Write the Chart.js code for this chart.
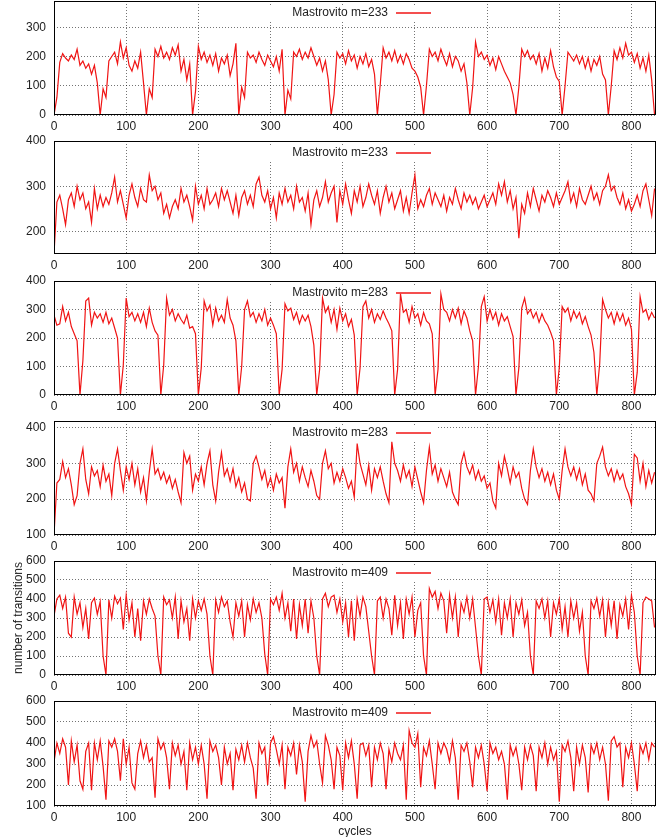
<!DOCTYPE html>
<html lang="en">
<head>
  <meta charset="UTF-8">
  <title>Mastrovito transitions per cycle</title>
  <script src="https://cdn.jsdelivr.net/npm/chart.js"></script>
  <style>
    body {
      margin: 0;
      background: #fff;
      width: 668px;
      height: 837px;
      position: relative;
      overflow: hidden;
      font-family: 'Liberation Sans', Arial, sans-serif;
      color: #222;
    }
    .panel { position: absolute; left: 0; }
    .ytitle {
      position: absolute;
      left: -82px;
      top: 611px;
      width: 200px;
      text-align: center;
      font-size: 12px;
      line-height: 14px;
      transform: rotate(-90deg);
    }
    .xtitle {
      position: absolute;
      left: 255px;
      top: 824px;
      width: 200px;
      text-align: center;
      font-size: 12px;
      line-height: 14px;
    }
  </style>
</head>
<body>
  <canvas class="panel" id="p0"></canvas>
  <canvas class="panel" id="p1"></canvas>
  <canvas class="panel" id="p2"></canvas>
  <canvas class="panel" id="p3"></canvas>
  <canvas class="panel" id="p4"></canvas>
  <canvas class="panel" id="p5"></canvas>
  <div class="ytitle">number of transitions</div>
  <div class="xtitle">cycles</div>

  <script>
    // samples taken every 4 cycles, 0..832
    const cycleStep = 4;
    const xTicks = [0, 100, 200, 300, 400, 500, 600, 700, 800];

    const m233a = [
      0, 60, 180, 210, 195, 185, 205, 190, 225, 170,
      185, 160, 175, 140, 170, 110, 0, 90, 60, 185,
      200, 215, 175, 250, 195, 230, 170, 150, 185, 160,
      215, 110, 0, 90, 60, 225, 200, 235, 195, 215,
      190, 230, 205, 240, 150, 190, 120, 175, 0, 80,
      235, 190, 215, 180, 205, 170, 210, 150, 195, 175,
      205, 135, 175, 245, 0, 95, 60, 215, 195, 205,
      180, 215, 190, 170, 205, 185, 165, 200, 150, 225,
      0, 85, 55, 215, 200, 225, 190, 215, 195, 230,
      200, 170, 195, 150, 185, 120, 0, 70, 215, 195,
      210, 175, 220, 185, 205, 160, 200, 175, 210, 165,
      190, 140, 0, 105, 230, 195, 215, 185, 220, 180,
      205, 175, 210, 190, 160, 150, 130, 95, 0, 100,
      225, 200, 215, 185, 225, 195, 170, 210, 165, 200,
      185, 150, 175, 110, 0, 95, 250, 200, 215, 190,
      205, 170, 195, 155, 200, 175, 150, 130, 110, 70,
      0, 95, 225, 200, 220, 190, 205, 175, 210, 150,
      195, 160, 220, 165, 130, 115, 0, 100, 215, 200,
      185, 205, 175, 200, 160, 195, 150, 190, 170, 200,
      140, 120, 0, 100, 220, 190, 230, 195, 245, 205,
      215, 180, 210, 160, 195, 150, 205, 120, 0
    ];

    const m233b = [
      150, 265, 280, 250, 215, 270, 285, 255, 300, 270,
      285, 250, 265, 220, 295, 250, 280, 255, 275, 260,
      285, 320, 265, 290, 260, 230, 280, 305, 275, 255,
      295, 270, 265, 325, 290, 300, 270, 285, 240, 260,
      230, 255, 270, 250, 295, 265, 280, 255, 225, 300,
      260, 280, 250, 295, 260, 270, 285, 255, 295, 270,
      290, 265, 240, 280, 235, 275, 290, 260, 280, 255,
      305, 320, 280, 265, 290, 250, 275, 230, 285, 260,
      295, 265, 280, 250, 300, 265, 275, 245, 285, 215,
      270, 290, 255, 275, 310, 265, 285, 300, 220, 290,
      260, 305, 270, 240, 290, 265, 300, 255, 275, 305,
      280, 260, 290, 240, 275, 300, 265, 285, 250, 270,
      290, 245, 275, 240, 285, 325, 250, 270, 255, 280,
      295, 260, 285, 270, 255, 280, 245, 275, 260, 295,
      270, 250, 285, 265, 280, 260, 275, 250, 265, 280,
      255, 270, 285, 260, 305, 280, 310, 265, 290, 250,
      275, 185, 260, 240, 285, 255, 295, 270, 245, 280,
      265, 290, 275, 255, 285, 260, 275, 290, 310, 265,
      285, 255, 295, 270, 260, 280, 300, 270, 285, 260,
      290, 300, 325, 290, 300, 275, 260, 285, 250, 270,
      245, 260, 280, 255, 290, 305, 270, 235, 295
    ];

    const m283a = [
      280, 245, 250, 310, 260, 290, 240, 215, 190, 0,
      120, 330, 340, 245, 290, 270, 285, 255, 290, 250,
      270, 235, 200, 0, 105, 340, 275, 290, 260, 285,
      255, 290, 240, 305, 255, 225, 210, 0, 105, 340,
      280, 300, 260, 285, 265, 250, 280, 235, 240, 215,
      0, 95, 330, 295, 315, 245, 305, 260, 280, 255,
      335, 270, 245, 190, 0, 100, 300, 330, 275, 290,
      255, 285, 260, 300, 245, 270, 245, 215, 0, 90,
      320, 295, 305, 265, 290, 250, 280, 260, 280, 240,
      175, 0, 90, 340, 290, 310, 255, 300, 230, 305,
      260, 285, 240, 265, 210, 0, 95, 310, 330, 270,
      300, 255, 285, 265, 295, 270, 250, 225, 0, 90,
      355, 290, 300, 255, 310, 270, 285, 245, 290, 260,
      250, 215, 0, 90, 355, 300, 290, 260, 300, 270,
      305, 250, 295, 270, 225, 190, 0, 100, 310, 345,
      260, 300, 265, 290, 245, 285, 260, 275, 240, 205,
      0, 95, 305, 340, 285, 300, 270, 290, 255, 285,
      260, 245, 220, 190, 0, 95, 310, 290, 305, 260,
      295, 270, 290, 250, 275, 240, 210, 150, 0, 110,
      335, 300, 270, 290, 250, 290, 260, 285, 245, 270,
      230, 0, 80, 345, 290, 300, 265, 290, 270
    ];

    const m283b = [
      100, 245, 255, 305, 260, 285, 240, 185, 210, 300,
      340, 255, 215, 290, 265, 280, 235, 295, 250, 270,
      210, 300, 340, 280, 225, 290, 255, 300, 240, 285,
      220, 260, 195, 275, 340, 270, 285, 255, 275, 245,
      265, 230, 255, 220, 190, 330, 300, 320, 225, 270,
      250, 290, 240, 300, 335, 240, 195, 275, 330, 265,
      285, 250, 285, 235, 260, 220, 245, 200, 195, 300,
      320, 290, 255, 280, 235, 260, 225, 270, 245, 260,
      175, 290, 340, 275, 300, 250, 290, 260, 235, 280,
      250, 210, 200, 300, 335, 285, 300, 245, 275, 250,
      285, 260, 230, 250, 205, 355, 300, 270, 240, 295,
      225, 285, 260, 290, 250, 215, 190, 360, 300, 280,
      250, 295, 260, 280, 235, 290, 255, 220, 190, 280,
      345, 270, 295, 250, 285, 260, 235, 275, 220, 200,
      185, 300, 330, 290, 270, 295, 255, 280, 250, 265,
      230, 245, 195, 175, 300, 265, 320, 285, 245, 290,
      260, 275, 230, 200, 185, 280, 340, 290, 260, 285,
      250, 275, 240, 270, 225, 200, 280, 340, 290, 265,
      290, 255, 285, 240, 270, 225, 215, 195, 300, 320,
      345, 290, 265, 285, 250, 280, 255, 270, 235, 215,
      185, 325, 315, 250, 300, 235, 280, 245, 275
    ];

    const m409a = [
      310, 400, 420, 350, 410, 220, 200, 410, 320, 380,
      250, 350, 190, 380, 405, 320, 385, 100, 0, 395,
      300, 415, 375, 405, 240, 420, 290, 380, 200, 350,
      180, 390, 320, 400, 350, 310, 100, 0, 410, 370,
      395, 300, 410, 190, 390, 280, 350, 180, 400, 300,
      390, 340, 400, 320, 100, 0, 395, 330, 410, 360,
      390, 280, 200, 380, 310, 390, 200, 370, 290, 400,
      330, 380, 300, 110, 0, 400, 370, 410, 340, 430,
      300, 380, 230, 400, 190, 370, 260, 400, 220, 390,
      300, 100, 0, 400, 430, 360, 410, 420, 330, 400,
      280, 380, 200, 390, 180, 400, 310, 410, 360, 230,
      100, 0, 390, 410, 300, 400, 350, 210, 420, 260,
      380, 190, 400, 320, 410, 200, 340, 380, 100, 0,
      455, 410, 440, 350, 430, 390, 220, 420, 300, 410,
      200, 380, 330, 410, 300, 400, 250, 100, 0, 400,
      410, 330, 395, 280, 400, 210, 380, 300, 400, 200,
      380, 320, 395, 260, 330, 100, 0, 390, 350, 400,
      300, 390, 200, 380, 320, 400, 240, 360, 200, 390,
      300, 380, 230, 330, 100, 0, 390, 350, 405, 310,
      395, 200, 380, 260, 390, 190, 370, 310, 400, 240,
      420, 330, 100, 0, 380, 410, 400, 390, 250
    ];

    const m409b = [
      310, 400, 350, 420, 380, 200, 410, 310, 390, 220,
      180, 360, 400, 175, 400, 320, 410, 290, 130, 410,
      380, 420, 360, 220, 420, 300, 380, 210, 180, 350,
      410, 330, 390, 310, 330, 140, 420, 370, 400, 330,
      180, 400, 340, 390, 300, 360, 175, 400, 320, 380,
      300, 390, 300, 135, 410, 360, 390, 330, 200, 380,
      300, 350, 175, 370, 320, 390, 310, 400, 330, 280,
      135, 400, 350, 380, 200, 400, 430, 370, 300, 390,
      180, 380, 340, 400, 250, 390, 310, 120, 360, 435,
      380, 410, 300, 210, 435, 390, 320, 180, 380, 340,
      175, 400, 330, 410, 300, 135, 390, 400, 340, 390,
      190, 380, 320, 400, 350, 180, 370, 310, 400, 350,
      320, 390, 130, 460, 400, 380, 445, 190, 380, 340,
      410, 300, 180, 400, 350, 400, 370, 310, 410, 330,
      130, 390, 360, 400, 310, 190, 380, 330, 390, 300,
      170, 400, 350, 380, 320, 360, 300, 130, 390, 340,
      380, 300, 175, 380, 320, 390, 340, 170, 380, 330,
      400, 300, 380, 320, 360, 120, 390, 360, 410, 330,
      170, 380, 300, 390, 330, 165, 390, 350, 400, 320,
      380, 300, 125, 410, 430, 380, 400, 190, 380, 330,
      400, 300, 170, 390, 350, 400, 320, 400, 380
    ];

    const seriesList = [m233a, m233b, m283a, m283b, m409a, m409b];
    const keyLabels = ['Mastrovito m=233', 'Mastrovito m=233', 'Mastrovito m=283',
                       'Mastrovito m=283', 'Mastrovito m=409', 'Mastrovito m=409'];
    const yTickSets = [
      [0, 100, 200, 300],
      [200, 300, 400],
      [0, 100, 200, 300, 400],
      [100, 200, 300, 400],
      [0, 100, 200, 300, 400, 500, 600],
      [100, 200, 300, 400, 500, 600]
    ];
    const yRanges = [[0, 390], [150, 400], [0, 400], [100, 418], [0, 600], [100, 600]];

    // plot box of each panel in page pixels (top, bottom)
    const boxes = [[1, 115], [141, 254], [281, 395], [421, 535], [561, 675], [701, 806]];

    const RED = 'rgb(240, 20, 20)';
    const FONT = "'Liberation Sans', Arial, sans-serif";
    const padTop = 8;
    const xAxisH = 24;

    const frameKey = {
      id: 'frameKey',
      beforeDatasetsDraw(chart, args, opts) {
        const a = chart.chartArea;
        const ctx = chart.ctx;
        const cy = Math.round(a.top + 11.5);
        ctx.save();
        ctx.setLineDash([]);
        ctx.fillStyle = '#fff';
        ctx.fillRect(270, cy - 7, 168, 14);
        ctx.font = '12px ' + FONT;
        ctx.fillStyle = '#222';
        ctx.textAlign = 'right';
        ctx.textBaseline = 'middle';
        ctx.fillText(opts.label, 388, cy);
        ctx.strokeStyle = RED;
        ctx.lineWidth = 1.5;
        ctx.beginPath();
        ctx.moveTo(396, cy);
        ctx.lineTo(431, cy);
        ctx.stroke();
        ctx.restore();
      },
      afterDraw(chart) {
        const a = chart.chartArea;
        const ctx = chart.ctx;
        ctx.save();
        ctx.setLineDash([]);
        ctx.strokeStyle = '#000';
        ctx.lineWidth = 1;
        ctx.strokeRect(a.left + 0.5, a.top + 0.5, a.right - a.left - 1, a.bottom - a.top - 1);
        ctx.restore();
      }
    };

    seriesList.forEach((vals, i) => {
      const [top, bottom] = boxes[i];
      const canvas = document.getElementById('p' + i);
      const h = padTop + (bottom - top) + xAxisH;
      canvas.width = 668;
      canvas.height = h;
      canvas.style.top = (top - padTop) + 'px';

      const points = vals.map((v, k) => ({ x: k * cycleStep, y: v }));

      new Chart(canvas, {
        type: 'line',
        data: {
          datasets: [{
            data: points,
            borderColor: RED,
            borderWidth: 1.2,
            pointRadius: 0,
            tension: 0,
            fill: false
          }]
        },
        options: {
          responsive: false,
          animation: false,
          events: [],
          layout: { padding: { top: padTop, right: 12, left: 0, bottom: 0 } },
          plugins: {
            legend: { display: false },
            tooltip: { enabled: false },
            frameKey: { label: keyLabels[i] }
          },
          scales: {
            x: {
              type: 'linear',
              min: 0,
              max: 834,
              afterFit: axis => {
                axis.height = xAxisH;
                axis.paddingLeft = 0;
                axis.paddingRight = 0;
              },
              afterBuildTicks: axis => { axis.ticks = xTicks.map(v => ({ value: v })); },
              grid: { color: 'rgba(0,0,0,0.55)', lineWidth: 1, drawTicks: false },
              border: { display: false, dash: [1, 2] },
              ticks: { color: '#222', font: { family: FONT, size: 12 }, padding: 4, maxRotation: 0, autoSkip: false }
            },
            y: {
              min: yRanges[i][0],
              max: yRanges[i][1],
              afterFit: axis => {
                axis.width = 54;
                axis.paddingTop = 0;
                axis.paddingBottom = 0;
              },
              afterBuildTicks: axis => { axis.ticks = yTickSets[i].map(v => ({ value: v })); },
              grid: { color: 'rgba(0,0,0,0.55)', lineWidth: 1, drawTicks: false },
              border: { display: false, dash: [1, 2] },
              ticks: { color: '#222', font: { family: FONT, size: 12 }, padding: 8, autoSkip: false }
            }
          }
        },
        plugins: [frameKey]
      });
    });
  </script>
</body>
</html>
